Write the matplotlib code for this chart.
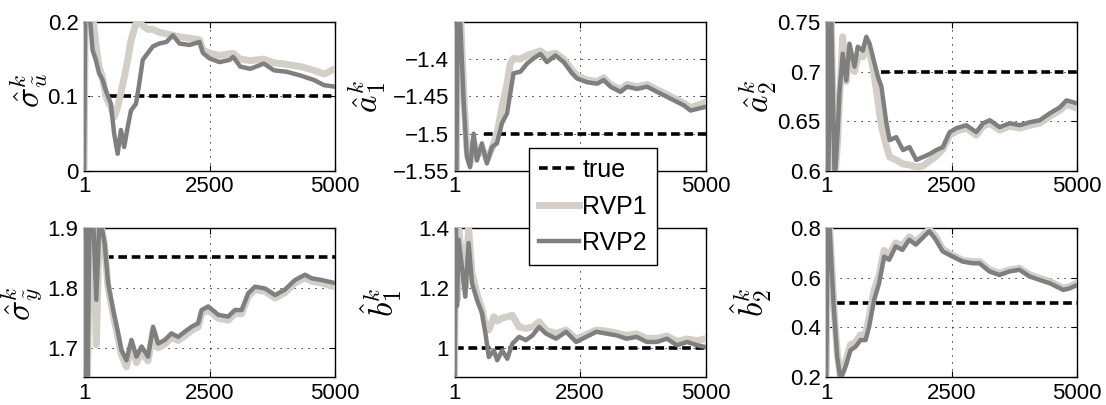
import matplotlib
matplotlib.use('Agg')
import matplotlib.pyplot as plt

plt.rcParams['font.family'] = ['Liberation Sans', 'DejaVu Sans']
plt.rcParams['mathtext.fontset'] = 'cm'

# panel 1: sigma_u
x_su = [1, 30, 100, 170, 235, 300, 370, 435, 535, 600, 670, 735, 800, 870, 935, 1035, 1100, 1170, 1270, 1370,
        1500, 1640, 1770, 1900, 2100, 2300, 2370, 2500, 2700, 2900, 2970, 3110, 3310, 3580, 3780, 4040, 4310, 4580, 4780, 5000]
rvp2_su = [0.0, 0.25, 0.22, 0.162, 0.149, 0.131, 0.122, 0.108, 0.090, 0.050, 0.023, 0.055, 0.032, 0.059, 0.081, 0.090, 0.117, 0.149, 0.158, 0.167,
           0.171, 0.173, 0.182, 0.171, 0.169, 0.173, 0.158, 0.151, 0.146, 0.149, 0.153, 0.140, 0.137, 0.144, 0.135, 0.133, 0.128, 0.122, 0.115, 0.113]
rvp1_su = [0.0, 0.25, 0.25, 0.21, 0.17, 0.14, 0.125, 0.10, 0.085, 0.072, 0.085, 0.105, 0.125, 0.149, 0.175, 0.198, 0.20, 0.195, 0.19, 0.19,
           0.186, 0.184, 0.182, 0.18, 0.178, 0.176, 0.162, 0.158, 0.155, 0.157, 0.158, 0.150, 0.148, 0.150, 0.145, 0.143, 0.140, 0.135, 0.130, 0.137]

# panel 2: a1
x_a1 = [1, 30, 70, 120, 180, 245, 310, 380, 445, 545, 645, 745, 845, 945, 1045, 1110, 1175, 1310, 1445, 1575,
        1710, 1840, 2010, 2175, 2340, 2440, 2640, 2840, 2970, 3105, 3305, 3435, 3635, 3835, 4035, 4300, 4565, 4700, 5000]
rvp2_a1 = [-1.30, -1.60, -1.30, -1.36, -1.455, -1.531, -1.545, -1.50, -1.536, -1.513, -1.540, -1.518, -1.513, -1.486, -1.473, -1.446, -1.419, -1.417, -1.406, -1.399,
           -1.393, -1.404, -1.395, -1.404, -1.419, -1.426, -1.431, -1.433, -1.428, -1.437, -1.444, -1.437, -1.440, -1.437, -1.444, -1.453, -1.462, -1.469, -1.464]
rvp1_a1 = [-1.30, -1.60, -1.30, -1.34, -1.44, -1.52, -1.54, -1.51, -1.53, -1.52, -1.535, -1.52, -1.50, -1.464, -1.433, -1.406, -1.399, -1.40, -1.395, -1.392,
           -1.389, -1.395, -1.392, -1.400, -1.415, -1.422, -1.428, -1.430, -1.425, -1.434, -1.441, -1.434, -1.437, -1.434, -1.441, -1.450, -1.459, -1.465, -1.458]

# panel 3: a2
x_a2 = [1, 40, 100, 170, 230, 265, 330, 400, 465, 565, 630, 730, 800, 865, 930, 1030, 1100, 1200, 1265, 1395,
        1530, 1660, 1795, 1930, 2060, 2195, 2325, 2460, 2595, 2790, 2990, 3125, 3260, 3455, 3655, 3855, 4055, 4255, 4455, 4655, 4785, 5000]
rvp2_a2 = [0.76, 0.59, 0.76, 0.59, 0.64, 0.678, 0.718, 0.691, 0.728, 0.705, 0.725, 0.721, 0.735, 0.728, 0.715, 0.695, 0.685, 0.648, 0.631, 0.634,
           0.621, 0.624, 0.611, 0.614, 0.617, 0.621, 0.624, 0.639, 0.643, 0.646, 0.639, 0.648, 0.651, 0.644, 0.648, 0.646, 0.649, 0.651, 0.658, 0.664, 0.671, 0.668]
rvp1_a2 = [0.76, 0.59, 0.76, 0.59, 0.63, 0.67, 0.735, 0.69, 0.72, 0.70, 0.715, 0.715, 0.73, 0.72, 0.705, 0.671, 0.645, 0.625, 0.614, 0.611,
           0.607, 0.606, 0.604, 0.605, 0.610, 0.615, 0.622, 0.636, 0.640, 0.643, 0.636, 0.645, 0.648, 0.641, 0.645, 0.643, 0.646, 0.648, 0.655, 0.661, 0.667, 0.663]

# panel 4: sigma_y
x_sy = [1, 30, 70, 115, 180, 245, 310, 410, 480, 580, 680, 745, 845, 945, 1045, 1145, 1275, 1375, 1475, 1610,
        1740, 1875, 2010, 2140, 2275, 2340, 2475, 2675, 2870, 3005, 3140, 3270, 3405, 3605, 3805, 4000, 4200, 4400, 4535, 4735, 5000]
rvp2_sy = [1.64, 1.95, 1.64, 1.95, 1.92, 1.780, 1.92, 1.875, 1.808, 1.763, 1.724, 1.696, 1.679, 1.713, 1.685, 1.702, 1.685, 1.735, 1.707, 1.713,
           1.724, 1.718, 1.727, 1.735, 1.741, 1.763, 1.769, 1.755, 1.752, 1.763, 1.763, 1.791, 1.802, 1.799, 1.788, 1.797, 1.813, 1.822, 1.816, 1.813, 1.808]
rvp1_sy = [1.64, 1.95, 1.64, 1.95, 1.92, 1.705, 1.92, 1.87, 1.80, 1.755, 1.715, 1.688, 1.668, 1.705, 1.675, 1.692, 1.678, 1.728, 1.700, 1.706,
           1.717, 1.712, 1.720, 1.729, 1.735, 1.757, 1.763, 1.749, 1.746, 1.757, 1.757, 1.786, 1.797, 1.794, 1.783, 1.792, 1.808, 1.817, 1.811, 1.808, 1.802]

# panel 5: b1
x_b1 = [1, 27, 50, 80, 147, 214, 281, 348, 448, 549, 616, 683, 783, 850, 950, 1051, 1151, 1285, 1419, 1553,
        1686, 1820, 2021, 2222, 2422, 2623, 2824, 3025, 3226, 3426, 3627, 3828, 4029, 4229, 4430, 4631, 4832, 5000]
rvp2_b1 = [0.88, 1.42, 1.14, 1.361, 1.272, 1.171, 1.35, 1.216, 1.16, 1.115, 1.048, 0.970, 0.992, 0.959, 0.992, 0.964, 1.014, 1.037, 1.026, 1.042,
           1.070, 1.048, 1.031, 1.054, 1.020, 1.037, 1.054, 1.048, 1.042, 1.031, 1.037, 1.020, 1.020, 1.031, 1.009, 1.020, 1.009, 1.003]
rvp1_b1 = [0.88, 1.42, 1.16, 1.40, 1.30, 1.20, 1.40, 1.25, 1.18, 1.13, 1.07, 1.06, 1.104, 1.09, 1.10, 1.104, 1.109, 1.07, 1.065, 1.07,
           1.087, 1.059, 1.048, 1.06, 1.03, 1.045, 1.06, 1.056, 1.05, 1.042, 1.047, 1.032, 1.032, 1.04, 1.022, 1.03, 1.024, 1.031]

# panel 6: b2
x_b2 = [1, 30, 70, 120, 155, 220, 285, 385, 485, 585, 685, 785, 855, 955, 1055, 1155, 1255, 1385, 1520, 1655,
        1785, 1920, 2055, 2185, 2320, 2520, 2720, 2920, 3055, 3255, 3450, 3650, 3850, 4050, 4250, 4450, 4720, 4850, 5000]
rvp2_b2 = [0.18, 0.82, 0.80, 0.60, 0.470, 0.281, 0.19, 0.241, 0.308, 0.322, 0.349, 0.349, 0.402, 0.510, 0.578, 0.685, 0.672, 0.726, 0.712, 0.753,
           0.733, 0.760, 0.787, 0.753, 0.706, 0.685, 0.665, 0.658, 0.658, 0.625, 0.611, 0.625, 0.632, 0.605, 0.591, 0.578, 0.551, 0.557, 0.571]
rvp1_b2 = [0.18, 0.82, 0.80, 0.62, 0.48, 0.30, 0.20, 0.26, 0.33, 0.34, 0.37, 0.37, 0.44, 0.55, 0.61, 0.71, 0.69, 0.74, 0.73, 0.765,
           0.745, 0.77, 0.795, 0.765, 0.715, 0.69, 0.67, 0.665, 0.665, 0.632, 0.618, 0.632, 0.638, 0.612, 0.598, 0.585, 0.558, 0.564, 0.58]

true_vals = [0.1, -1.5, 0.7, 1.852, 1.0, 0.5]
true_start = [500, 580, 1100, 410, 1, 190]
ylabels = [r'$\hat{\sigma}^k_{\tilde{u}}$', r'$\hat{a}^k_1$', r'$\hat{a}^k_2$',
           r'$\hat{\sigma}^k_{\tilde{y}}$', r'$\hat{b}^k_1$', r'$\hat{b}^k_2$']
ylims = [(0, 0.2), (-1.55, -1.35), (0.6, 0.75), (1.651, 1.9), (0.903, 1.4), (0.2, 0.8)]
yticks = [[0, 0.1, 0.2], [-1.55, -1.5, -1.45, -1.4], [0.6, 0.65, 0.7, 0.75],
          [1.7, 1.8, 1.9], [1, 1.2, 1.4], [0.2, 0.4, 0.6, 0.8]]
yticklabels = [['0', '0.1', '0.2'], ['\u22121.55', '\u22121.5', '\u22121.45', '\u22121.4'],
               ['0.6', '0.65', '0.7', '0.75'], ['1.7', '1.8', '1.9'], ['1', '1.2', '1.4'],
               ['0.2', '0.4', '0.6', '0.8']]

xs = [x_su, x_a1, x_a2, x_sy, x_b1, x_b2]
rvp1 = [rvp1_su, rvp1_a1, rvp1_a2, rvp1_sy, rvp1_b1, rvp1_b2]
rvp2 = [rvp2_su, rvp2_a1, rvp2_a2, rvp2_sy, rvp2_b1, rvp2_b2]

c_light = '#d3cfc8'
c_dark = '#7f7f7f'

fig = plt.figure(figsize=(11.06, 4.05), dpi=100)
lefts = [0.076, 0.411, 0.747]
bottoms = [0.578, 0.069]
# right edge of each y label, in axes coords
label_x = [-0.135, -0.265, -0.187, -0.16, -0.20, -0.207]
label_y = [0.54, 0.5, 0.5, 0.49, 0.5, 0.5]

for i in range(6):
    ax = fig.add_axes([lefts[i % 3], bottoms[i // 3], 0.227, 0.368])
    ax.set_axisbelow(True)
    ht, = ax.plot([true_start[i], 5000], [true_vals[i]] * 2, color='k', lw=2.6,
                  dashes=(2.4, 1.3), zorder=2)
    h1, = ax.plot(xs[i], rvp1[i], color=c_light, lw=5, zorder=3, solid_joinstyle='round')
    h2, = ax.plot(xs[i], rvp2[i], color=c_dark, lw=3.2, zorder=4, solid_joinstyle='round')
    ax.set_xlim(1, 5000)
    ax.set_ylim(*ylims[i])
    ax.set_xticks([1, 2500, 5000])
    ax.set_xticklabels(['1', '2500', '5000'])
    ax.set_yticks(yticks[i])
    ax.set_yticklabels(yticklabels[i])
    ax.tick_params(direction='in', top=True, right=True, length=4, width=0.8,
                   labelsize=16, pad=4)
    ax.grid(True, linestyle=(0, (1.2, 6)), color='k', lw=0.7)
    for s in ax.spines.values():
        s.set_linewidth(1.0)
    ax.set_ylabel(ylabels[i], fontsize=24)
    ax.yaxis.set_label_coords(label_x[i], label_y[i])

leg = fig.legend([ht, h1, h2], ['true', 'RVP1', 'RVP2'], loc='center',
                 bbox_to_anchor=(0.536, 0.49), fontsize=18, frameon=True, fancybox=False,
                 edgecolor='k', framealpha=1, handlelength=1.6, handletextpad=0.15,
                 borderpad=0.4, labelspacing=0.5, borderaxespad=0)
leg.get_frame().set_linewidth(1.0)

fig.savefig('out.png', dpi=100)
